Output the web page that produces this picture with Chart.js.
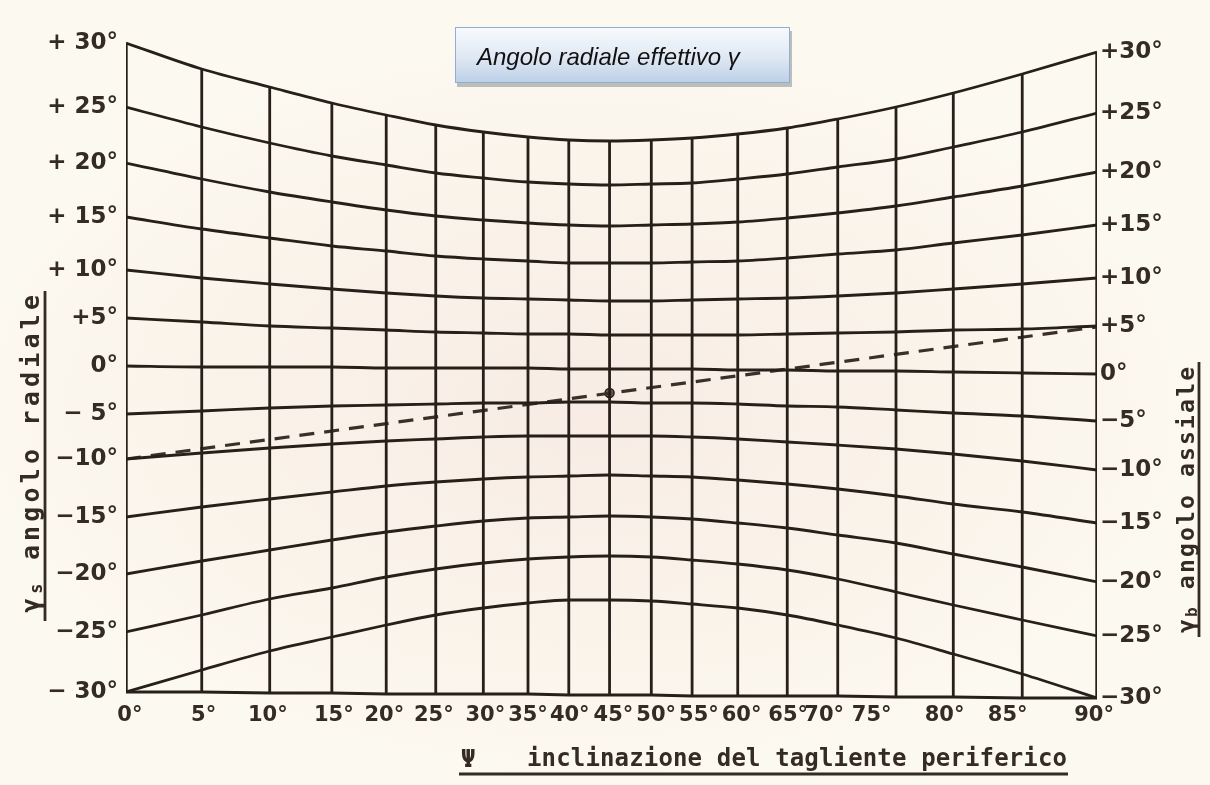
<!DOCTYPE html>
<html>
<head>
<meta charset="utf-8">
<script src="https://cdn.jsdelivr.net/npm/chart.js@4.4.1/dist/chart.umd.min.js"></script>
<style>
  html, body { margin: 0; padding: 0; overflow: hidden; }
  body {
    width: 1210px; height: 785px; position: relative;
    background: radial-gradient(ellipse 60% 55% at 48% 52%, #f8ece4 0%, #faf3ea 50%, #fcf9f0 85%);
  }
  #chart { position: absolute; left: 0; top: 0; }
  .titlebox {
    position: absolute; left: 455px; top: 27px; width: 335px; height: 56px;
    box-sizing: border-box;
    border: 1px solid #8eaed4;
    background: linear-gradient(#f7fafd 0%, #dfe8f3 55%, #bcd0e7 100%);
    box-shadow: 2px 4px 0 rgba(140,140,140,0.55);
    font: italic 24px "Liberation Sans", Arial, sans-serif;
    color: #111;
    line-height: 58px;
    padding-left: 21px;
    white-space: nowrap;
  }
</style>
</head>
<body>
<canvas id="chart" width="1210" height="785"></canvas>
<div class="titlebox">Angolo radiale effettivo γ</div>
<script>
// psi values, grid line positions and label positions (0..100 across the sheet)
const psiLabels = ['0°','5°','10°','15°','20°','25°','30°','35°','40°','45°','50°','55°','60°','65°','70°','75°','80°','85°','90°'];
const gridX  = [0, 7.8, 14.8, 21.2, 26.8, 31.9, 36.8, 41.4, 45.6, 49.8, 54.1, 58.3, 63.0, 68.1, 73.3, 79.3, 85.2, 92.3, 100];
const labelX = [0.4, 8.0, 14.6, 21.4, 26.6, 31.7, 37.0, 41.4, 45.7, 50.2, 54.6, 59.0, 63.4, 68.2, 71.9, 76.8, 84.3, 90.8, 99.7];

// side scales (drawing units, 0 = left 0° line)
const leftTickPos    = [323, 259, 203, 149, 96, 48, 0, -48, -93, -151, -208, -266, -326];
const leftTickLabels = ['+ 30°','+ 25°','+ 20°','+ 15°','+ 10°','+5°','0°','− 5°','−10°','−15°','−20°','−25°','− 30°'];
const rightTickPos    = [314, 253, 194, 141, 88, 40, -8, -55, -104, -157, -216, -270, -332];
const rightTickLabels = ['+30°','+25°','+20°','+15°','+10°','+5°','0°','−5°','−10°','−15°','−20°','−25°','−30°'];

// curves, one value per psi grid line
const g30  = [323, 297, 279, 263, 251, 241, 234, 229, 226, 225, 226, 228, 232, 238, 247, 259, 273, 292, 314];
const g25  = [259, 239, 223, 210, 201, 193, 188, 184, 182, 181, 182, 183, 187, 192, 199, 207, 219, 234, 253];
const g20  = [203, 187, 174, 164, 156, 150, 146, 143, 141, 140, 141, 142, 144, 148, 153, 160, 169, 180, 194];
const g15  = [149, 137, 128, 120, 115, 110, 107, 105, 103, 103, 103, 104, 105, 108, 112, 116, 123, 131, 141];
const g10  = [96, 88, 82, 77, 73, 70, 68, 67, 66, 65, 65, 66, 67, 68, 70, 73, 77, 82, 88];
const g5   = [48, 44, 40, 38, 36, 34, 33, 32, 32, 31, 31, 31, 31, 32, 33, 34, 36, 37, 40];
const g0   = [0, -1, -1, -1, -2, -2, -2, -2, -3, -3, -3, -3, -4, -4, -5, -5, -6, -7, -8];
const gm5  = [-48, -45, -42, -40, -39, -38, -37, -37, -36, -36, -37, -37, -38, -40, -41, -44, -47, -50, -55];
const gm10 = [-93, -87, -82, -78, -75, -73, -71, -70, -70, -70, -70, -71, -73, -76, -79, -83, -88, -95, -104];
const gm15 = [-151, -141, -133, -126, -120, -116, -113, -111, -110, -109, -110, -111, -114, -118, -123, -130, -138, -146, -157];
const gm20 = [-208, -195, -184, -174, -166, -160, -155, -152, -151, -150, -151, -153, -157, -162, -169, -177, -188, -201, -216];
const gm25 = [-266, -249, -233, -222, -211, -203, -197, -193, -191, -190, -191, -194, -198, -204, -213, -226, -239, -254, -270];
const gm30 = [-326, -304, -285, -271, -259, -249, -242, -237, -234, -234, -235, -238, -242, -249, -259, -272, -288, -308, -332];
const baseEdge = [-326, -326, -327, -327, -328, -328, -328, -328, -329, -329, -329, -330, -330, -330, -330, -331, -331, -332, -332];

// worked example: dashed line and its reading point
const dashX = [0, 100];
const dashY = [-93, 39];
const dotX = [49.8];
const dotY = [-27];

const INK = '#271f19';
const TEXT = '#342b25';
const curves = [g30, g25, g20, g15, g10, g5, g0, gm5, gm10, gm15, gm20, gm25, gm30];

const datasets = [];

// vertical psi lines, from the bottom edge up to the top curve
gridX.forEach((x, i) => {
  datasets.push({
    data: [{ x: x, y: baseEdge[i] }, { x: x, y: g30[i] }],
    borderColor: INK,
    borderWidth: (i === 0 || i === gridX.length - 1) ? 3.4 : 2.8,
    pointRadius: 0, tension: 0
  });
});

// bottom edge
datasets.push({
  data: gridX.map((x, i) => ({ x: x, y: baseEdge[i] })),
  borderColor: INK, borderWidth: 3, pointRadius: 0, tension: 0
});

// effective angle curves
curves.forEach(c => {
  datasets.push({
    data: gridX.map((x, i) => ({ x: x, y: c[i] })),
    borderColor: INK, borderWidth: 2.8, pointRadius: 0,
    cubicInterpolationMode: 'monotone'
  });
});

// dashed example line
datasets.push({
  data: dashX.map((x, i) => ({ x: x, y: dashY[i] })),
  borderColor: '#3a302a', borderWidth: 3.2, borderDash: [15, 10], pointRadius: 0, tension: 0
});

// reading point
datasets.push({
  data: dotX.map((x, i) => ({ x: x, y: dotY[i] })),
  showLine: false, pointRadius: 4.5, pointBackgroundColor: '#6a5a50',
  pointBorderColor: INK, pointBorderWidth: 1.5
});

function drawSpaced(ctx, parts, x, y, spacing) {
  let cx = x;
  parts.forEach(p => {
    ctx.font = p.font;
    for (const ch of p.t) {
      ctx.fillText(ch, cx, y + (p.dy || 0));
      cx += ctx.measureText(ch).width + spacing;
    }
  });
  return cx - spacing;
}

function naturalWidth(ctx, parts) {
  let w = 0, n = 0;
  parts.forEach(p => {
    ctx.font = p.font;
    for (const ch of p.t) { w += ctx.measureText(ch).width; n++; }
  });
  return { w, n };
}

function fitSpaced(ctx, parts, x, y, len) {
  const m = naturalWidth(ctx, parts);
  const sp = (len - m.w) / (m.n - 1);
  return drawSpaced(ctx, parts, x, y, sp);
}

const paperTitles = {
  id: 'paperTitles',
  afterDraw(chart) {
    const ctx = chart.ctx;
    ctx.save();
    ctx.fillStyle = TEXT;
    ctx.strokeStyle = TEXT;
    ctx.textAlign = 'left';
    ctx.textBaseline = 'alphabetic';
    const mono = '"DejaVu Sans Mono", monospace';

    // left title, rotated
    ctx.save();
    ctx.translate(39, 613);
    ctx.rotate(-Math.PI / 2);
    fitSpaced(ctx, [
      { t: 'γ', font: 'bold 25px ' + mono },
      { t: 's', font: 'bold 17px ' + mono, dy: 3 },
      { t: ' angolo radiale', font: 'bold 25px ' + mono }
    ], 0, 0, 318);
    ctx.restore();
    ctx.lineWidth = 2.8;
    ctx.beginPath(); ctx.moveTo(45, 621); ctx.lineTo(45, 291); ctx.stroke();

    // right title, rotated
    ctx.save();
    ctx.translate(1194, 633);
    ctx.rotate(-Math.PI / 2);
    fitSpaced(ctx, [
      { t: 'γ', font: 'bold 23px ' + mono },
      { t: 'b', font: 'bold 16px ' + mono, dy: 3 },
      { t: ' angolo assiale', font: 'bold 23px ' + mono }
    ], 0, 0, 266);
    ctx.restore();
    ctx.beginPath(); ctx.moveTo(1199, 637); ctx.lineTo(1199, 362); ctx.stroke();

    // bottom title
    ctx.font = 'bold 24px ' + mono;
    ctx.fillText('Ψ', 461, 767);
    fitSpaced(ctx, [{ t: 'inclinazione del tagliente periferico', font: 'bold 24px ' + mono }], 527, 766, 540);
    ctx.beginPath(); ctx.moveTo(459, 774); ctx.lineTo(1068, 774); ctx.stroke();
    ctx.restore();
  }
};

const sideFont = { family: '"DejaVu Sans", sans-serif', weight: 'bold', size: 23 };

new Chart(document.getElementById('chart'), {
  type: 'line',
  data: { datasets },
  plugins: [paperTitles],
  options: {
    responsive: false,
    animation: false,
    layout: { padding: { top: 26, left: 0, right: 0, bottom: 0 } },
    plugins: { legend: { display: false }, tooltip: { enabled: false } },
    scales: {
      x: {
        type: 'linear', min: 0, max: 100,
        afterFit: s => { s.height = 83; },
        afterBuildTicks: s => { s.ticks = labelX.map(v => ({ value: v })); },
        ticks: {
          autoSkip: false, maxRotation: 0, minRotation: 0, padding: 1,
          color: TEXT, font: { family: '"DejaVu Sans", sans-serif', weight: 'bold', size: 21 },
          callback: (v, i) => psiLabels[i]
        },
        grid: { display: false, drawTicks: false },
        border: { display: false }
      },
      y: {
        type: 'linear', position: 'left', min: -336, max: 340,
        afterFit: s => { s.width = 126; },
        afterBuildTicks: s => { s.ticks = leftTickPos.map(v => ({ value: v })); },
        ticks: {
          autoSkip: false, padding: 8, color: TEXT, font: sideFont,
          callback: (v, i) => leftTickLabels[i]
        },
        grid: { display: false, drawTicks: false },
        border: { display: false }
      },
      y2: {
        type: 'linear', position: 'right', min: -336, max: 340,
        afterFit: s => { s.width = 113; },
        afterBuildTicks: s => { s.ticks = rightTickPos.map(v => ({ value: v })); },
        ticks: {
          autoSkip: false, padding: 3, color: TEXT, font: sideFont,
          callback: (v, i) => rightTickLabels[i]
        },
        grid: { display: false, drawTicks: false },
        border: { display: false }
      }
    }
  }
});
</script>
</body>
</html>
